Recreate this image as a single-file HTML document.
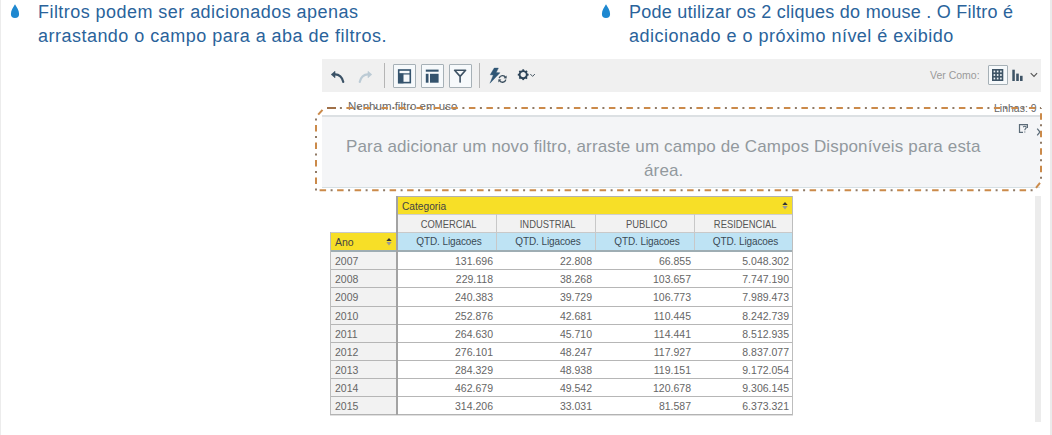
<!DOCTYPE html>
<html><head><meta charset="utf-8">
<style>
*{margin:0;padding:0;box-sizing:border-box}
html,body{width:1052px;height:435px;overflow:hidden;background:#fff;font-family:"Liberation Sans",sans-serif}
.abs{position:absolute}
.hdr{position:absolute;color:#2a639b;font-size:18px;line-height:23px;white-space:nowrap}
.drop{position:absolute}
.sep{position:absolute;width:1px;background:#b5b5b5}
.btn{position:absolute;width:23px;height:24px;border:1px solid #a6b0b6;background:#f6f9fb;border-radius:1px}
.msg{position:absolute;color:#92999e;font-size:17px;line-height:23px;white-space:nowrap;letter-spacing:0.15px}
.small{position:absolute;color:#7a7a7a;font-size:11px;line-height:13px;white-space:nowrap}
.hl{left:331px;width:461px;height:1px;background:#b6b6b6}
.cell{position:absolute;font-size:10.5px;color:#666;white-space:nowrap}
.yr{left:331px;width:65px;padding-left:4px}
.num{text-align:right;padding-right:3px}
.hc{position:absolute;padding-left:5px;font-size:10.8px;letter-spacing:0;color:#555;transform:scaleX(0.87);text-align:center;white-space:nowrap;height:17px;line-height:18px}
svg{position:absolute;overflow:visible}
</style></head><body>
<div class="abs" style="left:0;top:0;width:1px;height:435px;background:#ececec"></div>
<div class="abs" style="left:1050px;top:0;width:2px;height:435px;background:#ebebeb"></div>

<svg class="drop" style="left:10px;top:4px" width="10" height="15" viewBox="0 0 10 15"><path d="M5 0.3 C6.6 3.2 9.1 6.4 9.1 10 A4.1 4.1 0 0 1 0.9 10 C0.9 6.4 3.4 3.2 5 0.3Z" fill="#1e88d0"/></svg>
<div class="hdr" style="left:38px;top:1px;letter-spacing:0.45px">Filtros podem ser adicionados apenas</div>
<div class="hdr" style="left:38px;top:25px;letter-spacing:0.48px">arrastando o campo para a aba de filtros.</div>
<svg class="drop" style="left:601px;top:4px" width="10" height="15" viewBox="0 0 10 15"><path d="M5 0.3 C6.6 3.2 9.1 6.4 9.1 10 A4.1 4.1 0 0 1 0.9 10 C0.9 6.4 3.4 3.2 5 0.3Z" fill="#1e88d0"/></svg>
<div class="hdr" style="left:629px;top:1px;letter-spacing:0.25px">Pode utilizar os 2 cliques do mouse . O Filtro é</div>
<div class="hdr" style="left:629px;top:25px;letter-spacing:0.49px">adicionado e o próximo nível é exibido</div>

<!-- toolbar -->
<div class="abs" style="left:322px;top:59px;width:719px;height:33px;background:#f0f0f0"></div>
<svg style="left:326px;top:64px" width="52" height="26" viewBox="0 0 52 26">
 <path d="M8.5 10.4 C13 10 16.6 13.5 17.3 18" fill="none" stroke="#3b5266" stroke-width="2.1" stroke-linecap="round"/>
 <path d="M5.2 10.5 L9 7.3 L9 13.8Z" fill="#3b5266" stroke="#3b5266" stroke-width="0.6" stroke-linejoin="round"/>
 <path d="M42.5 10.4 C38 10 34.4 13.5 33.7 18" fill="none" stroke="#bccbd5" stroke-width="2.1" stroke-linecap="round"/>
 <path d="M45.8 10.5 L42 7.3 L42 13.8Z" fill="#bccbd5" stroke="#bccbd5" stroke-width="0.6" stroke-linejoin="round"/>
</svg>
<div class="sep" style="left:384px;top:63px;height:25px"></div>
<div class="btn" style="left:393px;top:64px"></div>
<div class="btn" style="left:421px;top:64px"></div>
<div class="btn" style="left:449px;top:64px"></div>
<svg style="left:392px;top:63px" width="80" height="26" viewBox="0 0 80 26">
 <rect x="6.7" y="7" width="11.6" height="12.6" fill="none" stroke="#34536d" stroke-width="1.6"/>
 <rect x="6" y="10.3" width="13" height="1.2" fill="#34536d"/>
 <rect x="6" y="10.5" width="5.5" height="9.8" fill="#34536d"/>
 <rect x="33.8" y="6.6" width="12.8" height="2.1" fill="#34536d"/>
 <rect x="33.8" y="10.8" width="2.7" height="8.9" fill="#34536d"/>
 <rect x="38" y="10.8" width="8.6" height="8.9" fill="#34536d"/>
 <path d="M62.6 7.3 L73.6 7.3 L68.1 13.4 Z M68.1 13.4 L68.1 19.1" fill="none" stroke="#3d5264" stroke-width="1.6" stroke-linejoin="round" stroke-linecap="round"/>
</svg>
<div class="sep" style="left:479px;top:63px;height:25px"></div>
<svg style="left:484px;top:63px" width="52" height="26" viewBox="0 0 52 26">
 <path d="M10.2 5.1 L14.4 5.1 L12.2 9.5 L16 9.8 L6 20.2 L9.3 12 L6.2 11.8 Z" fill="#2f5675" stroke="#2f5675" stroke-width="0.4" stroke-linejoin="round"/>
 <path d="M21.6 14.6 A3.4 3.4 0 0 0 15.2 15.2" fill="none" stroke="#3a4e5e" stroke-width="1.4"/>
 <path d="M15.4 17.3 A3.4 3.4 0 0 0 21.8 16.6" fill="none" stroke="#3a4e5e" stroke-width="1.4"/>
 <path d="M22.6 12.4 L22.6 15.6 L19.6 15.2Z" fill="#3a4e5e"/>
 <path d="M14.4 19.4 L14.4 16.2 L17.4 16.6Z" fill="#3a4e5e"/>
 <g transform="translate(39.2 11.7)" fill="#2d4458">
  <circle r="3.6" fill="none" stroke="#2d4458" stroke-width="1.9"/>
  <rect x="-0.9" y="-5.4" width="1.8" height="1.6"/><rect x="-0.9" y="3.8" width="1.8" height="1.6"/>
  <rect x="-5.4" y="-0.9" width="1.6" height="1.8"/><rect x="3.8" y="-0.9" width="1.6" height="1.8"/>
  <g transform="rotate(45)"><rect x="-0.9" y="-5.4" width="1.8" height="1.6"/><rect x="-0.9" y="3.8" width="1.8" height="1.6"/>
  <rect x="-5.4" y="-0.9" width="1.6" height="1.8"/><rect x="3.8" y="-0.9" width="1.6" height="1.8"/></g>
 </g>
 <path d="M46.3 11 L48.6 13.4 L50.9 11" fill="none" stroke="#4a5a66" stroke-width="1"/>
</svg>
<div class="small" style="left:930px;top:69px;color:#9a9a9a;font-size:10.5px">Ver Como:</div>
<div class="btn" style="left:988px;top:65px;width:20px;height:20px"></div>
<svg style="left:984px;top:61px" width="60" height="28" viewBox="0 0 60 28">
 <rect x="8" y="8" width="11.3" height="12" fill="#3e5466"/>
 <g fill="#eef3f6">
  <rect x="9.6" y="9.6" width="1.6" height="1.8"/><rect x="12.85" y="9.6" width="1.6" height="1.8"/><rect x="16.1" y="9.6" width="1.6" height="1.8"/>
  <rect x="9.6" y="13.1" width="1.6" height="1.8"/><rect x="12.85" y="13.1" width="1.6" height="1.8"/><rect x="16.1" y="13.1" width="1.6" height="1.8"/>
  <rect x="9.6" y="16.6" width="1.6" height="1.8"/><rect x="12.85" y="16.6" width="1.6" height="1.8"/><rect x="16.1" y="16.6" width="1.6" height="1.8"/>
 </g>
 <rect x="28.3" y="8.7" width="2.5" height="11.3" fill="#3e5466"/>
 <rect x="32.2" y="12.6" width="2.6" height="7.4" fill="#3e5466"/>
 <rect x="36" y="14.8" width="2.6" height="5.2" fill="#3e5466"/>
 <path d="M46.7 12.2 L50 15.5 L53.1 12.2" fill="none" stroke="#555" stroke-width="1.1"/>
</svg>

<!-- filter area -->
<div class="abs" style="left:322px;top:115px;width:718px;height:73px;background:#f4f5f7;border-top:2px solid #dce0e3;border-bottom:1px solid #d5dfe4"></div>
<div class="small" style="left:348px;top:100px;font-size:11.5px;color:#666">Nenhum filtro em uso</div>
<div class="small" style="left:994px;top:101.7px;font-size:10.5px;color:#666">Linhas: 9</div>
<div class="msg" style="left:346px;top:135.4px">Para adicionar um novo filtro, arraste um campo de Campos Disponíveis para esta</div>
<div class="msg" style="left:644px;top:158.6px">área.</div>
<svg style="left:1015px;top:121px" width="30" height="18" viewBox="0 0 30 18">
 <path d="M8 3.6 L4.5 3.6 L4.5 11.4 L8 11.4" fill="none" stroke="#5b6b78" stroke-width="1.2"/>
 <path d="M7.5 3.6 L12.4 3.6 L12.4 7" fill="none" stroke="#5b6b78" stroke-width="1.2"/>
 <path d="M8.3 6.2 C8.8 4.8 11.3 4.9 11.2 6.6 C11.1 7.6 9.8 7.8 9.8 9.3 M9.8 10.5 L9.8 11.5" fill="none" stroke="#5b6b78" stroke-width="1.1"/>
 <path d="M22.2 7.6 L25 11 L22.2 14.4" fill="none" stroke="#5b6b78" stroke-width="1.2"/>
</svg>
<svg style="left:0;top:0" width="1052" height="435" viewBox="0 0 1052 435">
 <path d="M346.40 108H352.90M363.90 108H370.40M381.40 108H387.90M398.90 108H405.40M416.40 108H422.90M433.90 108H440.40M451.40 108H457.90M468.90 108H475.40M486.40 108H492.90M503.90 108H510.40M521.40 108H527.90M538.90 108H545.40M556.40 108H562.90M573.90 108H580.40M591.40 108H597.90M608.90 108H615.40M626.40 108H632.90M643.90 108H650.40M661.40 108H667.90M678.90 108H685.40M696.40 108H702.90M713.90 108H720.40M731.40 108H737.90M748.90 108H755.40M766.40 108H772.90M783.90 108H790.40M801.40 108H807.90M818.90 108H825.40M836.40 108H842.90M853.90 108H860.40M871.40 108H877.90M888.90 108H895.40M906.40 108H912.90M923.90 108H930.40M941.40 108H947.90M958.90 108H965.40M976.40 108H982.90M993.90 108H1000.40M1011.40 108H1017.90M1028.90 108H1035.40M316 125.00V131.50M316 142.50V149.00M316 160.00V166.50M316 177.50V184.00M319.60 190.3H326.10M337.10 190.3H343.60M354.60 190.3H361.10M372.10 190.3H378.60M389.60 190.3H396.10M407.10 190.3H413.60M424.60 190.3H431.10M442.10 190.3H448.60M459.60 190.3H466.10M477.10 190.3H483.60M494.60 190.3H501.10M512.10 190.3H518.60M529.60 190.3H536.10M547.10 190.3H553.60M564.60 190.3H571.10M582.10 190.3H588.60M599.60 190.3H606.10M617.10 190.3H623.60M634.60 190.3H641.10M652.10 190.3H658.60M669.60 190.3H676.10M687.10 190.3H693.60M704.60 190.3H711.10M722.10 190.3H728.60M739.60 190.3H746.10M757.10 190.3H763.60M774.60 190.3H781.10M792.10 190.3H798.60M809.60 190.3H816.10M827.10 190.3H833.60M844.60 190.3H851.10M862.10 190.3H868.60M879.60 190.3H886.10M897.10 190.3H903.60M914.60 190.3H921.10M932.10 190.3H938.60M949.60 190.3H956.10M967.10 190.3H973.60M984.60 190.3H991.10M1002.10 190.3H1008.60M1019.60 190.3H1026.10M1041 113.30V119.80M1041 130.80V137.30M1041 148.30V154.80M1041 165.80V172.30" fill="none" stroke="#cb8a4a" stroke-width="2"/>
 <path d="M339.90 108H341.90M357.40 108H359.40M374.90 108H376.90M392.40 108H394.40M409.90 108H411.90M427.40 108H429.40M444.90 108H446.90M462.40 108H464.40M479.90 108H481.90M497.40 108H499.40M514.90 108H516.90M532.40 108H534.40M549.90 108H551.90M567.40 108H569.40M584.90 108H586.90M602.40 108H604.40M619.90 108H621.90M637.40 108H639.40M654.90 108H656.90M672.40 108H674.40M689.90 108H691.90M707.40 108H709.40M724.90 108H726.90M742.40 108H744.40M759.90 108H761.90M777.40 108H779.40M794.90 108H796.90M812.40 108H814.40M829.90 108H831.90M847.40 108H849.40M864.90 108H866.90M882.40 108H884.40M899.90 108H901.90M917.40 108H919.40M934.90 108H936.90M952.40 108H954.40M969.90 108H971.90M987.40 108H989.40M1004.90 108H1006.90M1022.40 108H1024.40M1039.90 108H1041.00M316 118.50V120.50M316 136.00V138.00M316 153.50V155.50M316 171.00V173.00M316 188.50V190.50M330.60 190.3H332.60M348.10 190.3H350.10M365.60 190.3H367.60M383.10 190.3H385.10M400.60 190.3H402.60M418.10 190.3H420.10M435.60 190.3H437.60M453.10 190.3H455.10M470.60 190.3H472.60M488.10 190.3H490.10M505.60 190.3H507.60M523.10 190.3H525.10M540.60 190.3H542.60M558.10 190.3H560.10M575.60 190.3H577.60M593.10 190.3H595.10M610.60 190.3H612.60M628.10 190.3H630.10M645.60 190.3H647.60M663.10 190.3H665.10M680.60 190.3H682.60M698.10 190.3H700.10M715.60 190.3H717.60M733.10 190.3H735.10M750.60 190.3H752.60M768.10 190.3H770.10M785.60 190.3H787.60M803.10 190.3H805.10M820.60 190.3H822.60M838.10 190.3H840.10M855.60 190.3H857.60M873.10 190.3H875.10M890.60 190.3H892.60M908.10 190.3H910.10M925.60 190.3H927.60M943.10 190.3H945.10M960.60 190.3H962.60M978.10 190.3H980.10M995.60 190.3H997.60M1013.10 190.3H1015.10M1030.60 190.3H1032.60M1041 108.00V108.80M1041 124.30V126.30M1041 141.80V143.80M1041 159.30V161.30M1041 176.80V178.80" fill="none" stroke="#8f7a66" stroke-width="2"/>
 <path d="M327 108H336" fill="none" stroke="#a07048" stroke-width="2"/>
 <path d="M318.2 114.6 L322.5 109.8" fill="none" stroke="#cb8a4a" stroke-width="2"/>
 <path d="M1040 182.8 L1036 187.8" fill="none" stroke="#cb8a4a" stroke-width="2"/>
</svg>

<!-- table -->
<div class="abs" style="left:397px;top:196px;width:396px;height:2px;background:#b0b0b0"></div>
<div class="abs" style="left:398px;top:197px;width:394px;height:17px;background:#f7df27"></div>
<div class="abs" style="left:398px;top:214px;width:394px;height:1px;background:#cfcfcf"></div>
<div class="abs" style="left:398px;top:215px;width:394px;height:17px;background:#f2f2f2"></div>
<div class="abs" style="left:331px;top:232px;width:461px;height:1px;background:#c9c9c9"></div>
<div class="abs" style="left:398px;top:233px;width:394px;height:17px;background:#bee3f4"></div>
<div class="abs" style="left:331px;top:233px;width:66px;height:17px;background:#f7df27"></div>
<div class="abs" style="left:330px;top:250px;width:463px;height:2px;background:#9eadb3"></div>
<div class="abs" style="left:398px;top:414px;width:394px;height:0"></div>
<div class="abs" style="left:331px;top:252px;width:65px;height:162px;background:#f2f2f2"></div>
<div class="abs hl" style="top:269px"></div>
<div class="abs hl" style="top:287px"></div>
<div class="abs hl" style="top:306px"></div>
<div class="abs hl" style="top:324px"></div>
<div class="abs hl" style="top:342px"></div>
<div class="abs hl" style="top:360px"></div>
<div class="abs hl" style="top:378px"></div>
<div class="abs hl" style="top:396px"></div>
<div class="cell yr" style="top:252px;height:17px;line-height:18px">2007</div>
<div class="cell num" style="left:397px;width:99px;top:252px;height:17px;line-height:18px">131.696</div>
<div class="cell num" style="left:496px;width:99px;top:252px;height:17px;line-height:18px">22.808</div>
<div class="cell num" style="left:595px;width:99px;top:252px;height:17px;line-height:18px">66.855</div>
<div class="cell num" style="left:694px;width:98px;top:252px;height:17px;line-height:18px">5.048.302</div>
<div class="cell yr" style="top:270px;height:17px;line-height:18px">2008</div>
<div class="cell num" style="left:397px;width:99px;top:270px;height:17px;line-height:18px">229.118</div>
<div class="cell num" style="left:496px;width:99px;top:270px;height:17px;line-height:18px">38.268</div>
<div class="cell num" style="left:595px;width:99px;top:270px;height:17px;line-height:18px">103.657</div>
<div class="cell num" style="left:694px;width:98px;top:270px;height:17px;line-height:18px">7.747.190</div>
<div class="cell yr" style="top:288px;height:18px;line-height:19px">2009</div>
<div class="cell num" style="left:397px;width:99px;top:288px;height:18px;line-height:19px">240.383</div>
<div class="cell num" style="left:496px;width:99px;top:288px;height:18px;line-height:19px">39.729</div>
<div class="cell num" style="left:595px;width:99px;top:288px;height:18px;line-height:19px">106.773</div>
<div class="cell num" style="left:694px;width:98px;top:288px;height:18px;line-height:19px">7.989.473</div>
<div class="cell yr" style="top:307px;height:17px;line-height:18px">2010</div>
<div class="cell num" style="left:397px;width:99px;top:307px;height:17px;line-height:18px">252.876</div>
<div class="cell num" style="left:496px;width:99px;top:307px;height:17px;line-height:18px">42.681</div>
<div class="cell num" style="left:595px;width:99px;top:307px;height:17px;line-height:18px">110.445</div>
<div class="cell num" style="left:694px;width:98px;top:307px;height:17px;line-height:18px">8.242.739</div>
<div class="cell yr" style="top:325px;height:17px;line-height:18px">2011</div>
<div class="cell num" style="left:397px;width:99px;top:325px;height:17px;line-height:18px">264.630</div>
<div class="cell num" style="left:496px;width:99px;top:325px;height:17px;line-height:18px">45.710</div>
<div class="cell num" style="left:595px;width:99px;top:325px;height:17px;line-height:18px">114.441</div>
<div class="cell num" style="left:694px;width:98px;top:325px;height:17px;line-height:18px">8.512.935</div>
<div class="cell yr" style="top:343px;height:17px;line-height:18px">2012</div>
<div class="cell num" style="left:397px;width:99px;top:343px;height:17px;line-height:18px">276.101</div>
<div class="cell num" style="left:496px;width:99px;top:343px;height:17px;line-height:18px">48.247</div>
<div class="cell num" style="left:595px;width:99px;top:343px;height:17px;line-height:18px">117.927</div>
<div class="cell num" style="left:694px;width:98px;top:343px;height:17px;line-height:18px">8.837.077</div>
<div class="cell yr" style="top:361px;height:17px;line-height:18px">2013</div>
<div class="cell num" style="left:397px;width:99px;top:361px;height:17px;line-height:18px">284.329</div>
<div class="cell num" style="left:496px;width:99px;top:361px;height:17px;line-height:18px">48.938</div>
<div class="cell num" style="left:595px;width:99px;top:361px;height:17px;line-height:18px">119.151</div>
<div class="cell num" style="left:694px;width:98px;top:361px;height:17px;line-height:18px">9.172.054</div>
<div class="cell yr" style="top:379px;height:17px;line-height:18px">2014</div>
<div class="cell num" style="left:397px;width:99px;top:379px;height:17px;line-height:18px">462.679</div>
<div class="cell num" style="left:496px;width:99px;top:379px;height:17px;line-height:18px">49.542</div>
<div class="cell num" style="left:595px;width:99px;top:379px;height:17px;line-height:18px">120.678</div>
<div class="cell num" style="left:694px;width:98px;top:379px;height:17px;line-height:18px">9.306.145</div>
<div class="cell yr" style="top:397px;height:17px;line-height:18px">2015</div>
<div class="cell num" style="left:397px;width:99px;top:397px;height:17px;line-height:18px">314.206</div>
<div class="cell num" style="left:496px;width:99px;top:397px;height:17px;line-height:18px">33.031</div>
<div class="cell num" style="left:595px;width:99px;top:397px;height:17px;line-height:18px">81.587</div>
<div class="cell num" style="left:694px;width:98px;top:397px;height:17px;line-height:18px">6.373.321</div>
<div class="abs" style="left:330px;top:232px;width:1px;height:183px;background:#bdbdbd"></div>
<div class="abs" style="left:330px;top:414px;width:463px;height:1px;background:#b3b3b3"></div><div class="abs" style="left:330px;top:415px;width:463px;height:1px;background:#e0e0e0"></div>
<div class="abs" style="left:396px;top:196px;width:2px;height:219px;background:#a3a3a3"></div>
<div class="abs" style="left:496px;top:214px;width:1px;height:36px;background:#c8c8c8"></div>
<div class="abs" style="left:595px;top:214px;width:1px;height:36px;background:#c8c8c8"></div>
<div class="abs" style="left:694px;top:214px;width:1px;height:36px;background:#c8c8c8"></div>
<div class="abs" style="left:792px;top:196px;width:1px;height:219px;background:#bdbdbd"></div>
<div class="cell" style="left:402px;top:198px;height:17px;line-height:18px;color:#444;font-size:10.2px">Categoria</div>
<div class="hc" style="left:397px;top:215px;width:99px">COMERCIAL</div>
<div class="hc" style="left:496px;top:215px;width:99px">INDUSTRIAL</div>
<div class="hc" style="left:595px;top:215px;width:99px">PUBLICO</div>
<div class="hc" style="left:694px;top:215px;width:98px">RESIDENCIAL</div>
<div class="hc" style="left:397px;top:233px;width:99px;color:#3a4a55;font-size:10px;letter-spacing:-0.1px;transform:none">QTD. Ligacoes</div>
<div class="hc" style="left:496px;top:233px;width:99px;color:#3a4a55;font-size:10px;letter-spacing:-0.1px;transform:none">QTD. Ligacoes</div>
<div class="hc" style="left:595px;top:233px;width:99px;color:#3a4a55;font-size:10px;letter-spacing:-0.1px;transform:none">QTD. Ligacoes</div>
<div class="hc" style="left:694px;top:233px;width:98px;color:#3a4a55;font-size:10px;letter-spacing:-0.1px;transform:none">QTD. Ligacoes</div>
<div class="cell" style="left:335px;top:233px;height:17px;line-height:18px;color:#444">Ano</div>
<svg style="left:380px;top:236px" width="16" height="14" viewBox="0 0 16 14"><path d="M6.3 5 L9 2 L11.7 5Z" fill="#333"/><path d="M6.3 6 L11.7 6 L9 9.5Z" fill="#999"/></svg>
<svg style="left:776px;top:200px" width="16" height="14" viewBox="0 0 16 14"><path d="M6.3 5 L9 2 L11.7 5Z" fill="#333"/><path d="M6.3 6 L11.7 6 L9 9.5Z" fill="#999"/></svg>
<div class="abs" style="left:1035px;top:196px;width:6px;height:226px;background:#ececec"></div>
</body></html>
